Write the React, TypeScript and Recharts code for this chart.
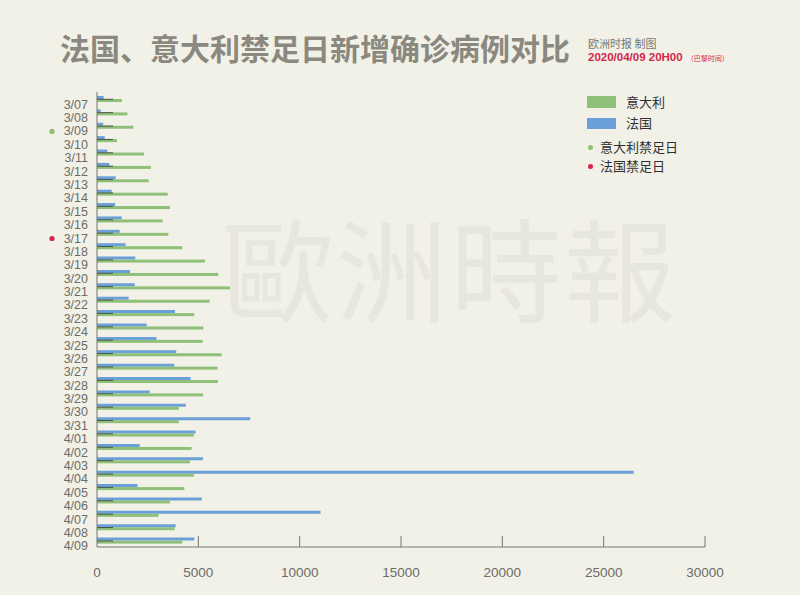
import React from 'react';
import { BarChart, Bar, XAxis, YAxis } from 'recharts';

// 每日新增确诊
const dates = [
  '3/07', '3/08', '3/09', '3/10', '3/11', '3/12', '3/13', '3/14', '3/15', '3/16',
  '3/17', '3/18', '3/19', '3/20', '3/21', '3/22', '3/23', '3/24', '3/25', '3/26',
  '3/27', '3/28', '3/29', '3/30', '3/31', '4/01', '4/02', '4/03', '4/04', '4/05',
  '4/06', '4/07', '4/08', '4/09',
];
const france = [
  330, 180, 300, 380, 510, 610, 920, 720, 900, 1220,
  1120, 1410, 1890, 1630, 1860, 1560, 3850, 2450, 2930, 3910,
  3810, 4620, 2600, 4380, 7560, 4860, 2110, 5230, 26480, 2000,
  5170, 11030, 3880, 4800,
];
const italy = [
  1230, 1500, 1790, 990, 2320, 2660, 2550, 3490, 3600, 3240,
  3520, 4210, 5330, 5980, 6560, 5560, 4800, 5240, 5210, 6150,
  5950, 5970, 5230, 4040, 4040, 4780, 4670, 4590, 4780, 4310,
  3600, 3040, 3830, 4210,
];
const xTicks = [0, 5000, 10000, 15000, 20000, 25000, 30000];
const italyLockdown = '3/09';
const franceLockdown = '3/17';

const data = dates.map((date, i) => ({ date, france: france[i], italy: italy[i] }));

const BG = '#f2f1e7';
const GREEN = '#8fc079';
const BLUE = '#6a9fd9';
const RED = '#d3264a';
const AXIS = '#747470';
const LABEL = '#6c6c68';
const SANS = '"Liberation Sans", Arial, sans-serif';
const CJK = '"Noto Sans CJK SC", sans-serif';

function YTick(props: any) {
  const { x, y, payload } = props;
  const v = payload.value;
  let dot: string | null = null;
  if (v === italyLockdown) dot = GREEN;
  if (v === franceLockdown) dot = RED;
  return (
    <g>
      <text x={x - 9} y={y + 6} textAnchor="end" dominantBaseline="central"
        fontSize={12.5} fontFamily={SANS} fill={LABEL}>{v}</text>
      {dot && <circle cx={52} cy={y + 6} r={2.6} fill={dot} />}
    </g>
  );
}

function XTick(props: any) {
  const { x, y, payload } = props;
  return (
    <g>
      {payload.value !== 0 && <line x1={x} x2={x} y1={y} y2={y - 11} stroke={AXIS} strokeWidth={1} />}
      <text x={x} y={y + 25} textAnchor="middle" dominantBaseline="central"
        fontSize={13.5} fontFamily={SANS} fill={LABEL}>{payload.value}</text>
    </g>
  );
}

// green bar with the thin dark stub on top of it near the axis
function ItalyBar(props: any) {
  const { x, y, width, height } = props;
  return (
    <g>
      <rect x={x} y={y} width={width} height={height} fill={GREEN} />
      <line x1={x} x2={x + 16} y1={y + 0.3} y2={y + 0.3} stroke="#3a4638" strokeWidth={0.9} />
    </g>
  );
}

export default function App() {
  return (
    <div style={{ position: 'absolute', left: 0, top: 0, width: 800, height: 595, background: BG, overflow: 'hidden' }}>
      {/* watermark */}
      <div style={{
        position: 'absolute', left: 222, top: 190, fontSize: 112, lineHeight: '150px',
        fontFamily: '"Noto Sans CJK TC", sans-serif', fontWeight: 400, color: '#e8e7dd', letterSpacing: 2,
      }}>歐洲時報</div>

      {/* title */}
      <div style={{
        position: 'absolute', left: 60, top: 28, fontSize: 30, lineHeight: '38px',
        fontFamily: CJK, fontWeight: 700, color: '#8b897f', whiteSpace: 'nowrap',
      }}>法国、意大利禁足日新增确诊病例对比</div>
      <div style={{
        position: 'absolute', left: 588, top: 36, fontSize: 11, lineHeight: '14px',
        fontFamily: '"Noto Sans CJK SC", serif', color: '#77756e', whiteSpace: 'nowrap',
      }}>欧洲时报 制图</div>
      <div style={{
        position: 'absolute', left: 588, top: 49, fontSize: 11.5, lineHeight: '16px',
        fontFamily: SANS, fontWeight: 700, color: RED, whiteSpace: 'nowrap',
      }}>2020/04/09 20H00<span style={{ fontSize: 7, fontWeight: 400, fontFamily: CJK, marginLeft: 4 }}>（巴黎时间）</span></div>

      {/* legend */}
      <div style={{ position: 'absolute', left: 587, top: 96, width: 29, height: 12, background: GREEN }} />
      <div style={{ position: 'absolute', left: 626, top: 94, fontSize: 13, lineHeight: '16px', fontFamily: CJK, color: '#2f2f2f' }}>意大利</div>
      <div style={{ position: 'absolute', left: 587, top: 118, width: 29, height: 11, background: BLUE }} />
      <div style={{ position: 'absolute', left: 626, top: 115, fontSize: 13, lineHeight: '16px', fontFamily: CJK, color: '#2f2f2f' }}>法国</div>
      <div style={{ position: 'absolute', left: 588, top: 145, width: 5, height: 5, borderRadius: 3, background: GREEN }} />
      <div style={{ position: 'absolute', left: 600, top: 139, fontSize: 13, lineHeight: '16px', fontFamily: CJK, color: '#2f2f2f' }}>意大利禁足日</div>
      <div style={{ position: 'absolute', left: 588, top: 164, width: 5, height: 5, borderRadius: 3, background: RED }} />
      <div style={{ position: 'absolute', left: 600, top: 158, fontSize: 13, lineHeight: '16px', fontFamily: CJK, color: '#2f2f2f' }}>法国禁足日</div>

      <div style={{ position: 'absolute', left: 0, top: 0 }}>
        <BarChart
          width={800}
          height={595}
          data={data}
          layout="vertical"
          margin={{ top: 92, right: 95, bottom: 18, left: 37 }}
          barSize={3}
          barGap={0}
        >
          <XAxis
            type="number"
            domain={[0, 30000]}
            ticks={xTicks}
            height={30}
            tickSize={0}
            tickMargin={0}
            tickLine={false}
            axisLine={{ stroke: AXIS, strokeWidth: 1 }}
            tick={<XTick />}
            interval={0}
          />
          <YAxis
            type="category"
            dataKey="date"
            width={60}
            tickSize={0}
            tickMargin={0}
            tickLine={false}
            axisLine={{ stroke: AXIS, strokeWidth: 1 }}
            tick={<YTick />}
            interval={0}
          />
          <Bar dataKey="france" fill={BLUE} isAnimationActive={false} />
          <Bar dataKey="italy" fill={GREEN} shape={<ItalyBar />} isAnimationActive={false} />
        </BarChart>
      </div>
    </div>
  );
}
